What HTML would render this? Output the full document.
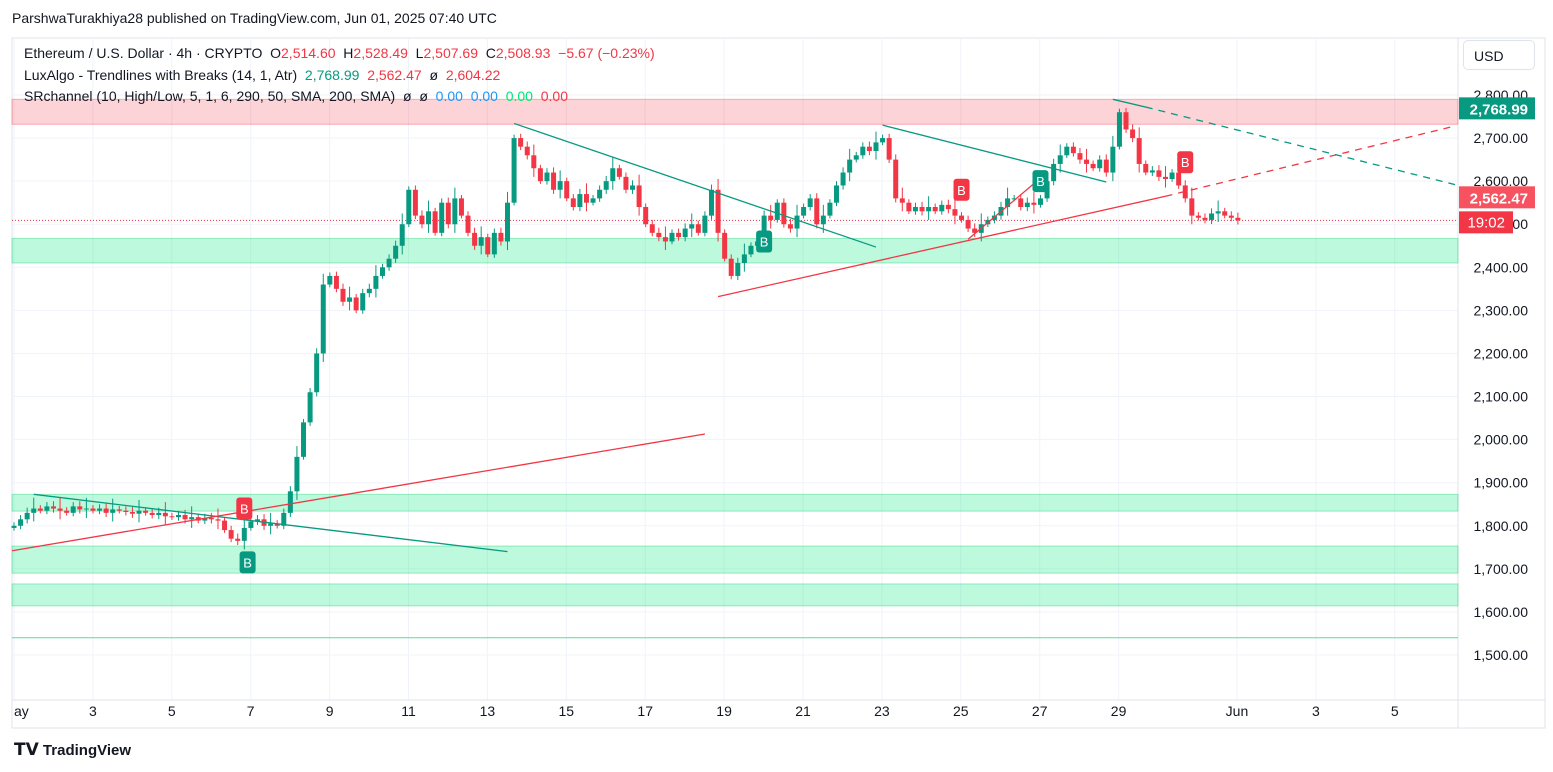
<!DOCTYPE html>
<html><head><meta charset="utf-8"><style>
body{margin:0;background:#fff;font-family:"Liberation Sans",sans-serif;}
#wrap{position:relative;width:1553px;height:772px;overflow:hidden;background:#fff}
.t{position:absolute;white-space:nowrap}
</style></head><body>
<div id="wrap">
<div class="t" style="left:12px;top:10px;font-size:14px;color:#131722">ParshwaTurakhiya28 published on TradingView.com, Jun 01, 2025 07:40 UTC</div>
<svg id="chart" width="1553" height="772" style="position:absolute;left:0;top:0"></svg>
<div class="t" style="left:24px;top:45px;font-size:14px;color:#131722">Ethereum / U.S. Dollar · 4h · CRYPTO &nbsp;O<span style="color:#f23645">2,514.60</span> &nbsp;H<span style="color:#f23645">2,528.49</span> &nbsp;L<span style="color:#f23645">2,507.69</span> &nbsp;C<span style="color:#f23645">2,508.93 &nbsp;−5.67 (−0.23%)</span></div>
<div class="t" style="left:24px;top:67px;font-size:14px;color:#131722">LuxAlgo - Trendlines with Breaks (14, 1, Atr) &nbsp;<span style="color:#089981">2,768.99</span> &nbsp;<span style="color:#f23645">2,562.47</span> &nbsp;ø &nbsp;<span style="color:#f23645">2,604.22</span></div>
<div class="t" style="left:24px;top:88px;font-size:14px;color:#131722">SRchannel (10, High/Low, 5, 1, 6, 290, 50, SMA, 200, SMA) &nbsp;ø &nbsp;ø &nbsp;<span style="color:#2196f3">0.00</span> &nbsp;<span style="color:#2196f3">0.00</span> &nbsp;<span style="color:#00e676">0.00</span> &nbsp;<span style="color:#f23645">0.00</span></div>
<div class="t" style="left:1463px;top:40px;width:72px;height:30px;border:1px solid #e0e3eb;border-radius:5px;font-size:14px;line-height:30px;padding-left:10px;box-sizing:border-box;color:#131722">USD</div>
<div class="t" style="left:14px;top:740px;font-size:15px;font-weight:bold;color:#131722"><span style="font-size:17px">𝗧𝗩</span> TradingView</div>
</div>
<script>
const closes=[1800,1815,1830,1840,1835,1845, 1840,1835,1830,1845,1838,1840, 1835,1840,1830,1838,1835,1832,
1828,1835,1830,1825,1830,1822, 1820,1825,1815,1820,1812,1818, 1815,1812,1790,1770,1765,1795,
1810,1815,1800,1805,1800,1830, 1880,1960,2040,2110,2200,2360, 2380,2350,2320,2330,2300,2340,
2350,2380,2400,2420,2450,2500, 2580,2520,2500,2530,2480,2550, 2500,2560,2520,2480,2450,2470,
2430,2480,2460,2550,2700,2680, 2660,2630,2600,2620,2580,2600, 2560,2540,2570,2550,2560,2580,
2600,2630,2610,2580,2590,2540, 2500,2480,2470,2460,2480,2470, 2490,2500,2480,2520,2580,2480,
2420,2380,2410,2430,2450,2460, 2520,2510,2550,2500,2490,2520, 2540,2560,2500,2520,2550,2590,
2620,2650,2660,2680,2670,2690, 2700,2650,2560,2550,2530,2540, 2530,2540,2530,2545,2535,2520,
2510,2490,2480,2500,2510,2520, 2540,2560,2560,2540,2550,2545, 2560,2600,2640,2660,2680,2665,
2650,2640,2630,2650,2620,2680, 2760,2720,2700,2640,2620,2625, 2610,2605,2620,2590,2560,2520,
2515,2510,2525,2530,2520,2515, 2509];
const firstOpen=1795;
const wick=[8,10,12,25];
const priceTicks=[2800,2700,2600,2500,2400,2300,2200,2100,2000,1900,1800,1700,1600,1500];
const dateLabels=["ay","3","5","7","9","11","13","15","17","19","21","23","25","27","29","Jun","3","5"];
const dateDays=[0,2,4,6,8,10,12,14,16,18,20,22,24,26,28,31,33,35];
const redZones=[[2790,2732]];
const greenZones=[[2467,2410],[1873,1834],[1753,1690],[1665,1614]];
const trendlines=[[3,1873,75,1740,'#089981',0],[-0.3,1742,105,2013,'#f23645',0],[76,2734,131,2447,'#089981',0],
[107,2332,175,2565,'#f23645',0],[175,2565,219,2728,'#f23645',1],[132,2730,166,2598,'#089981',0],
[145,2465,157,2620,'#f23645',0],[167,2790,172,2772,'#089981',0],[172,2772,219,2592,'#089981',1]];
const breaks=[[35,1840,'#f23645'],[35.5,1715,'#089981'],[114,2460,'#089981'],[144,2580,'#f23645'],[156,2600,'#089981'],[178,2644,'#f23645']];
const S='http://www.w3.org/2000/svg',svg=document.getElementById('chart');
const L=12,R=1458,T=38,B=728;
const y=p=>95+(2800-p)*0.43077;
const xi=i=>14+i*6.58;
const xd=d=>14+d*39.45;
function el(t,a,p){const e=document.createElementNS(S,t);for(const k in a)e.setAttribute(k,a[k]);(p||svg).appendChild(e);return e;}
let e=el('rect',{x:L,y:T,width:1533,height:B-T,fill:'none',stroke:'#e0e3eb'});


priceTicks.forEach(p=>{let g=el('line',{x1:L,x2:R,y1:y(p),y2:y(p),stroke:'#f0f3fa'});


let t=el('text',{x:1528,y:y(p)+5,'text-anchor':'end','font-size':14,fill:'#131722','font-family':'Liberation Sans'});t.textContent=p.toLocaleString('en-US')+'.00';

});
dateDays.forEach((d,k)=>{let g=el('line',{x1:xd(d),x2:xd(d),y1:T,y2:700,stroke:'#f0f3fa'});


let t=el('text',{x:xd(d),y:716,'text-anchor':k==0?'start':'middle','font-size':14,fill:'#131722','font-family':'Liberation Sans'});t.textContent=dateLabels[k];

});
el('line',{x1:L,x2:1545,y1:700,y2:700,stroke:'#e0e3eb'});
el('line',{x1:R,x2:R,y1:T,y2:B,stroke:'#e0e3eb'});
redZones.forEach(z=>{let r=el('rect',{x:L,y:y(z[0]),width:R-L,height:y(z[1])-y(z[0]),fill:'rgba(242,54,69,0.22)',stroke:'rgba(242,54,69,0.35)'});

});
greenZones.forEach(z=>{let r=el('rect',{x:L,y:y(z[0]),width:R-L,height:y(z[1])-y(z[0]),fill:'rgba(0,230,118,0.26)',stroke:'rgba(0,200,100,0.35)'});

});
let sl=el('line',{x1:L,x2:R,y1:y(1540),y2:y(1540),stroke:'#5fd9a0'});


let cp=el('line',{x1:L,x2:R,y1:y(2509),y2:y(2509),stroke:'#f23645','stroke-dasharray':'1 2'});


let prev=firstOpen;
closes.forEach((c,i)=>{const o=prev;prev=c;const up=c>=o,col=up?'#089981':'#f23645';
const w=wick[i%4];const hi=Math.max(o,c)+w,lo=Math.min(o,c)-w*0.8;const x=xi(i);
let g=el('g',{});


el('line',{x1:x,x2:x,y1:y(hi),y2:y(lo),stroke:col,'stroke-width':1},g);
const top=y(Math.max(o,c)),h=Math.max(1,y(Math.min(o,c))-top);
el('rect',{x:x-2.5,y:top,width:5,height:h,fill:col},g);});
trendlines.forEach(t=>{let l=el('line',{x1:xi(t[0]),y1:y(t[1]),x2:xi(t[2]),y2:y(t[3]),stroke:t[4],'stroke-width':1.3,'stroke-dasharray':t[5]?'7 6':'none'});

});
breaks.forEach(b=>{let g=el('g',{});


const x=xi(b[0]),yy=y(b[1]);el('rect',{x:x-8,y:yy-11,width:16,height:22,rx:3,fill:b[2]},g);
let t=el('text',{x:x,y:yy+5,'text-anchor':'middle','font-size':13,fill:'#fff','font-family':'Liberation Sans'},g);t.textContent='B';});
function tag(p,txt,col,name){let g=el('g',{});


el('rect',{x:R+1,y:y(p)-11,width:76,height:22,fill:col},g);
let t=el('text',{x:R+70,y:y(p)+6,'text-anchor':'end','font-size':15,'font-weight':'bold',fill:'#fff','font-family':'Liberation Sans'},g);t.textContent=txt;}
tag(2768.99,'2,768.99','#089981','upper-trend-tag');
tag(2562.47,'2,562.47','#f7525f','lower-trend-tag');
(function(){let g=el('g',{});


el('rect',{x:R+1,y:y(2509)-9,width:54,height:22,fill:'#f23645'},g);
let t=el('text',{x:R+47,y:y(2509)+7,'text-anchor':'end','font-size':15,fill:'#fff','font-family':'Liberation Sans'},g);t.textContent='19:02';})();
</script>
</body></html>
